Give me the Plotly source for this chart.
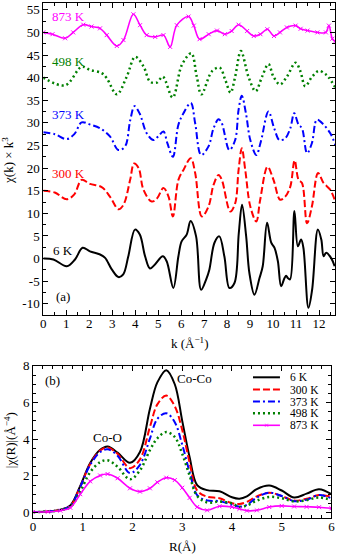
import plotly.graph_objects as go

# ---- panel (a): chi(k) * k^3, curves already shifted vertically ----
k_6 = [0, 0.44, 1.02, 1.38, 1.71, 2.03, 2.47, 2.69, 2.98, 3.27, 3.48, 3.7, 3.99, 4.2, 4.43,
       4.64, 4.86, 5.2, 5.37, 5.66, 5.88, 6.02, 6.24, 6.41, 6.65, 6.87, 7.09, 7.23, 7.45, 7.66,
       7.88, 8.1, 8.32, 8.51, 8.65, 8.83, 8.97, 9.19, 9.41, 9.55, 9.74, 9.92, 10.06, 10.21, 10.35,
       10.5, 10.57, 10.64, 10.74, 10.93, 11.08, 11.22, 11.32, 11.54, 11.7, 11.95, 12.1, 12.2, 12.31,
       12.53, 12.68]
chi_6 = [0, -0.2, -1.7, -0.2, 2.4, 1.6, 0.9, 0.15, -2.4, -4.1, -3.5, 0.5, 6.4, 5.3, 0.5,
         -2.2, -1.3, 0.5, -0.6, -6.5, 0.5, 3.8, 5.3, 8.3, 4.9, -6.9, -4.6, -2.4, 3.5, 4.9,
         0.5, -6.5, -5.4, 5.7, 11.9, 4.9, -3.2, -8.0, -4.3, -1.7, 7.9, 3.5, 2.4, -0.6, -6.1,
         -4.3, -3.8, -4.3, -4.6, 10.5, 2.7, 4.2, 2.4, -10.9, -6.9, 6.4, 4.2, 0.5, 1.3,
         0.1, -1.7]

k_300 = [0, 0.5, 1.02, 1.35, 1.67, 2.03, 2.54, 2.9, 3.27, 3.49, 3.78, 3.95, 4.15, 4.36, 4.72,
         4.95, 5.23, 5.45, 5.64, 5.88, 6.1, 6.42, 6.61, 6.9, 7.19, 7.41, 7.63, 7.77, 8.14, 8.35,
         8.5, 8.64, 8.79, 9.01, 9.27, 9.44, 9.76, 10.02, 10.31, 10.53, 10.75, 10.94, 11.11, 11.26,
         11.48, 11.69, 11.96, 12.2, 12.49, 12.71]
chi_300 = [15, 14.6, 13.1, 14.2, 17.4, 16.5, 15.8, 13.7, 10.9, 11.9, 17.4, 21.0, 20.0, 15.2, 12.6,
           13.3, 15.6, 13.7, 9.3, 17.4, 19.6, 22.2, 18.9, 9.3, 11.5, 16.3, 18.5, 17.4, 10.4, 12.2,
           19.6, 24.4, 19.6, 11.5, 8.2, 13.0, 20.3, 17.4, 13.0, 13.7, 15.9, 21.7, 17.4, 16.7,
           7.8, 11.5, 18.9, 16.7, 15.2, 12.6]

k_373 = [0, 0.5, 1.02, 1.35, 1.67, 2.05, 2.47, 2.9, 3.27, 3.56, 3.78, 3.97, 4.2, 4.5, 4.79,
         5.0, 5.23, 5.4, 5.64, 5.88, 6.1, 6.42, 6.61, 6.87, 7.19, 7.41, 7.63, 7.77, 8.1, 8.35,
         8.5, 8.64, 8.82, 9.01, 9.27, 9.47, 9.8, 10.05, 10.28, 10.53, 10.75, 10.92, 11.11, 11.26,
         11.48, 11.69, 11.91, 12.2, 12.49, 12.71]
chi_373 = [27.9, 27.5, 26.4, 27.5, 30.1, 29.6, 28.8, 27.0, 24.0, 24.8, 30.5, 33.7, 32.0, 27.7, 26.2,
           27.0, 28.1, 25.5, 22.5, 29.6, 32.1, 34.4, 29.9, 22.9, 24.8, 28.8, 30.8, 29.9, 24.0, 26.2,
           32.9, 36.0, 32.1, 26.2, 22.9, 25.9, 32.5, 28.8, 26.2, 26.6, 28.8, 32.1, 29.6, 28.8,
           23.3, 25.5, 30.7, 29.6, 27.7, 25.1]

k_498 = [0, 0.95, 1.67, 2.03, 2.54, 2.76, 3.2, 3.63, 4.0, 4.36, 4.65, 4.94, 5.2, 5.63, 6.03,
         6.44, 6.68, 6.88, 7.34, 7.68, 7.92, 8.15, 8.35, 8.6, 8.93, 9.24, 9.52, 9.8, 10.02, 10.3,
         10.6, 10.98, 11.19, 11.4, 11.7, 12.0, 12.27, 12.4, 12.7]
chi_498 = [40.0, 38.3, 42.4, 41.7, 41.0, 39.9, 36.3, 40.2, 44.6, 42.5, 39.1, 38.9, 40.2, 35.6, 42.8,
           45.4, 40.2, 36.3, 41.4, 42.2, 39.5, 36.7, 40.2, 45.9, 40.2, 37.0, 40.2, 43.0, 40.2, 38.5,
           40.2, 43.3, 41.4, 38.1, 40.2, 41.5, 40.8, 40.2, 37.9]

k_873 = [0, 0.4, 0.95, 1.3, 1.74, 2.1, 2.47, 2.76, 3.2, 3.49, 3.92, 4.21, 4.5, 4.87, 5.23,
         5.52, 5.81, 6.32, 6.55, 6.8, 7.2, 7.56, 7.9, 8.2, 8.5, 8.87, 9.16, 9.45, 9.75, 10.04,
         10.3, 10.6, 10.98, 11.2, 11.5, 11.93, 12.3, 12.43, 12.58, 12.7]
chi_873 = [50.0, 49.6, 48.7, 50.0, 51.7, 51.3, 50.9, 49.4, 47.0, 48.3, 54.0, 51.6, 49.4, 49.0, 49.4,
           46.8, 51.6, 53.5, 51.5, 48.5, 49.6, 50.4, 49.6, 50.3, 51.7, 50.3, 49.2, 49.6, 50.7, 49.2,
           50.0, 51.1, 51.5, 50.8, 50.4, 50.0, 50.0, 51.5, 48.6, 48.0]

# ---- panel (b): |chi(R)| ----
R = [0, 0.3, 0.55, 0.75, 0.95, 1.15, 1.35, 1.5, 1.7, 1.95, 2.15, 2.35, 2.5, 2.68, 2.85,
     3.0, 3.15, 3.3, 3.5, 3.75, 4.0, 4.15, 4.3, 4.5, 4.75, 5.0, 5.25, 5.5, 5.75, 6.0]
ft_6 = [0.03, 0.05, 0.15, 0.38, 1.45, 2.7, 3.42, 3.6, 3.27, 2.71, 3.3, 5.65, 7.1, 7.77, 7.0,
        5.0, 3.0, 1.5, 1.22, 1.16, 0.83, 0.75, 0.88, 1.28, 1.47, 1.2, 0.82, 1.03, 1.27, 1.0]
ft_300 = [0.03, 0.05, 0.15, 0.35, 1.4, 2.65, 3.38, 3.55, 3.2, 2.42, 2.9, 4.66, 5.9, 6.38, 5.8,
          4.5, 2.7, 1.2, 0.86, 0.78, 0.5, 0.47, 0.58, 0.88, 1.08, 0.9, 0.65, 0.75, 0.95, 0.86]
ft_373 = [0.03, 0.05, 0.15, 0.35, 1.4, 2.6, 3.3, 3.45, 3.1, 2.15, 2.6, 4.03, 5.11, 5.42, 4.93,
          3.7, 2.2, 0.95, 0.66, 0.62, 0.42, 0.32, 0.42, 0.82, 1.08, 0.9, 0.62, 0.7, 0.95, 0.77]
ft_498 = [0.03, 0.05, 0.13, 0.3, 1.15, 2.2, 2.75, 2.85, 2.5, 1.81, 2.3, 3.4, 4.05, 4.39, 4.12,
          3.2, 2.0, 0.9, 0.55, 0.6, 0.5, 0.3, 0.38, 0.65, 0.85, 0.78, 0.6, 0.68, 0.82, 0.68]
ft_873 = [0.03, 0.04, 0.1, 0.26, 1.0, 1.7, 2.02, 2.1, 1.87, 1.32, 1.14, 1.32, 1.65, 1.9, 1.77,
          1.35, 0.8, 0.3, 0.12, 0.34, 0.3, 0.2, 0.1, 0.12, 0.3, 0.36, 0.33, 0.31, 0.29, 0.23]

names = ["6 K", "300 K", "373 K", "498 K", "873 K"]
colors = ["black", "#ff0000", "#0000ff", "#008000", "#ff00ff"]
dashes = ["solid", "7px,3px", "7px,3px,2px,3px", "2px,3px", "solid"]
widths = [2, 2, 2, 2.5, 1.6]

top = [(k_6, chi_6), (k_300, chi_300), (k_373, chi_373), (k_498, chi_498), (k_873, chi_873)]
bottom = [ft_6, ft_300, ft_373, ft_498, ft_873]

FONT = "Liberation Serif"
FS = 13

fig = go.Figure()
for i, name in enumerate(names):
    mode = "lines+markers" if name == "873 K" else "lines"
    mk = dict(symbol="x-thin", size=4, line=dict(width=1, color=colors[i]), color=colors[i])
    fig.add_trace(go.Scatter(x=top[i][0], y=top[i][1], mode=mode, name=name,
                             line=dict(color=colors[i], width=widths[i], dash=dashes[i], shape="spline"),
                             marker=mk, showlegend=False, xaxis="x", yaxis="y"))
    fig.add_trace(go.Scatter(x=R, y=bottom[i], mode=mode, name=name,
                             line=dict(color=colors[i], width=widths[i], dash=dashes[i], shape="spline"),
                             marker=mk, showlegend=False, xaxis="x2", yaxis="y2"))

axis_common = dict(showline=True, linecolor="black", linewidth=1, mirror="allticks",
                   ticks="inside", ticklen=5, tickcolor="black", showgrid=False, zeroline=False,
                   automargin=False, ticklabeloverflow="allow",
                   tickfont=dict(family=FONT, size=FS, color="black"))

ytop_vals = list(range(-10, 56, 5))
ytop_text = [str(v) for v in ytop_vals]

fig.update_layout(
    width=339, height=556,
    margin=dict(l=33, r=3, t=3, b=38),
    paper_bgcolor="white", plot_bgcolor="white",
    font=dict(family=FONT, size=FS, color="black"),
    showlegend=False,
    xaxis=dict(axis_common, domain=[0.034, 0.997], anchor="y", range=[0, 12.7],
               tickmode="linear", tick0=0, dtick=1, ticklabelstandoff=-4,
               minor=dict(tickmode="linear", tick0=0, dtick=0.5, ticklen=3, ticks="inside")),
    yaxis=dict(axis_common, domain=[0.394, 1.0], anchor="x", range=[-12.5, 56.5],
               tickmode="array", tickvals=ytop_vals, ticktext=ytop_text,
               minor=dict(tickmode="linear", tick0=0, dtick=2.5, ticklen=3, ticks="inside")),
    xaxis2=dict(axis_common, domain=[0.0, 0.985], anchor="y2", range=[0, 6],
                tickmode="linear", tick0=0, dtick=1, ticklabelstandoff=-4,
                minor=dict(tickmode="linear", tick0=0, dtick=0.2, ticklen=3, ticks="inside")),
    yaxis2=dict(axis_common, domain=[0.0, 0.296], anchor="x2", range=[-0.3, 8.02],
                tickmode="linear", tick0=0, dtick=2,
                minor=dict(tickmode="linear", tick0=0, dtick=0.5, ticklen=3, ticks="inside")),
)

ann = []
labels_top = [("873 K", 1.1, 53.5, colors[4]), ("498 K", 1.1, 43.6, colors[3]),
              ("373 K", 1.1, 31.8, colors[2]), ("300 K", 1.1, 18.9, colors[1]),
              ("6 K", 0.84, 1.7, colors[0]), ("(a)", 0.86, -8.4, "black")]
for t, x, y, c in labels_top:
    ann.append(dict(text=t, x=x, y=y, xref="x", yref="y", showarrow=False,
                    xanchor="center", yanchor="middle",
                    font=dict(family=FONT, size=FS, color=c)))
for t, x, y in [("(b)", 0.4, 7.23), ("Co-Co", 3.25, 7.33), ("Co-O", 1.49, 4.12)]:
    ann.append(dict(text=t, x=x, y=y, xref="x2", yref="y2", showarrow=False,
                    xanchor="center", yanchor="middle",
                    font=dict(family=FONT, size=FS, color="black")))

# axis titles
titles = [("k (Å<sup>−1</sup>)", 0.518, 0.340, 0),
          ("χ(k) × k<sup>3</sup>", -0.083, 0.695, -90),
          ("R(Å)", 0.495, -0.0557, 0),
          ("|χ(R)|(Å<sup>−4</sup>)", -0.076, 0.151, -90)]
for t, x, y, ang in titles:
    ann.append(dict(text=t, x=x, y=y, xref="paper", yref="paper", showarrow=False,
                    xanchor="center", yanchor="middle", textangle=ang,
                    font=dict(family=FONT, size=FS)))

# legend for panel (b), drawn by hand to keep the tight row spacing
shapes = []
leg_rows = [0.2732, 0.2495, 0.2262, 0.2032, 0.1800]
for i, name in enumerate(names):
    yy = leg_rows[i]
    shapes.append(dict(type="line", xref="paper", yref="paper", x0=0.726, x1=0.815, y0=yy, y1=yy,
                       line=dict(color=colors[i], width=widths[i], dash=dashes[i])))
    ann.append(dict(text=name, x=0.842, y=yy, xref="paper", yref="paper", xanchor="left",
                    yanchor="middle", showarrow=False,
                    font=dict(family=FONT, size=11.5, color="black")))
ann.append(dict(text="×", x=0.7705, y=leg_rows[4], xref="paper", yref="paper", showarrow=False,
                xanchor="center", yanchor="middle",
                font=dict(family=FONT, size=9, color=colors[4])))

fig.update_layout(annotations=ann, shapes=shapes)

fig.write_html("out.html", config={"displayModeBar": False},
               post_script="document.body.style.margin='0px';")
